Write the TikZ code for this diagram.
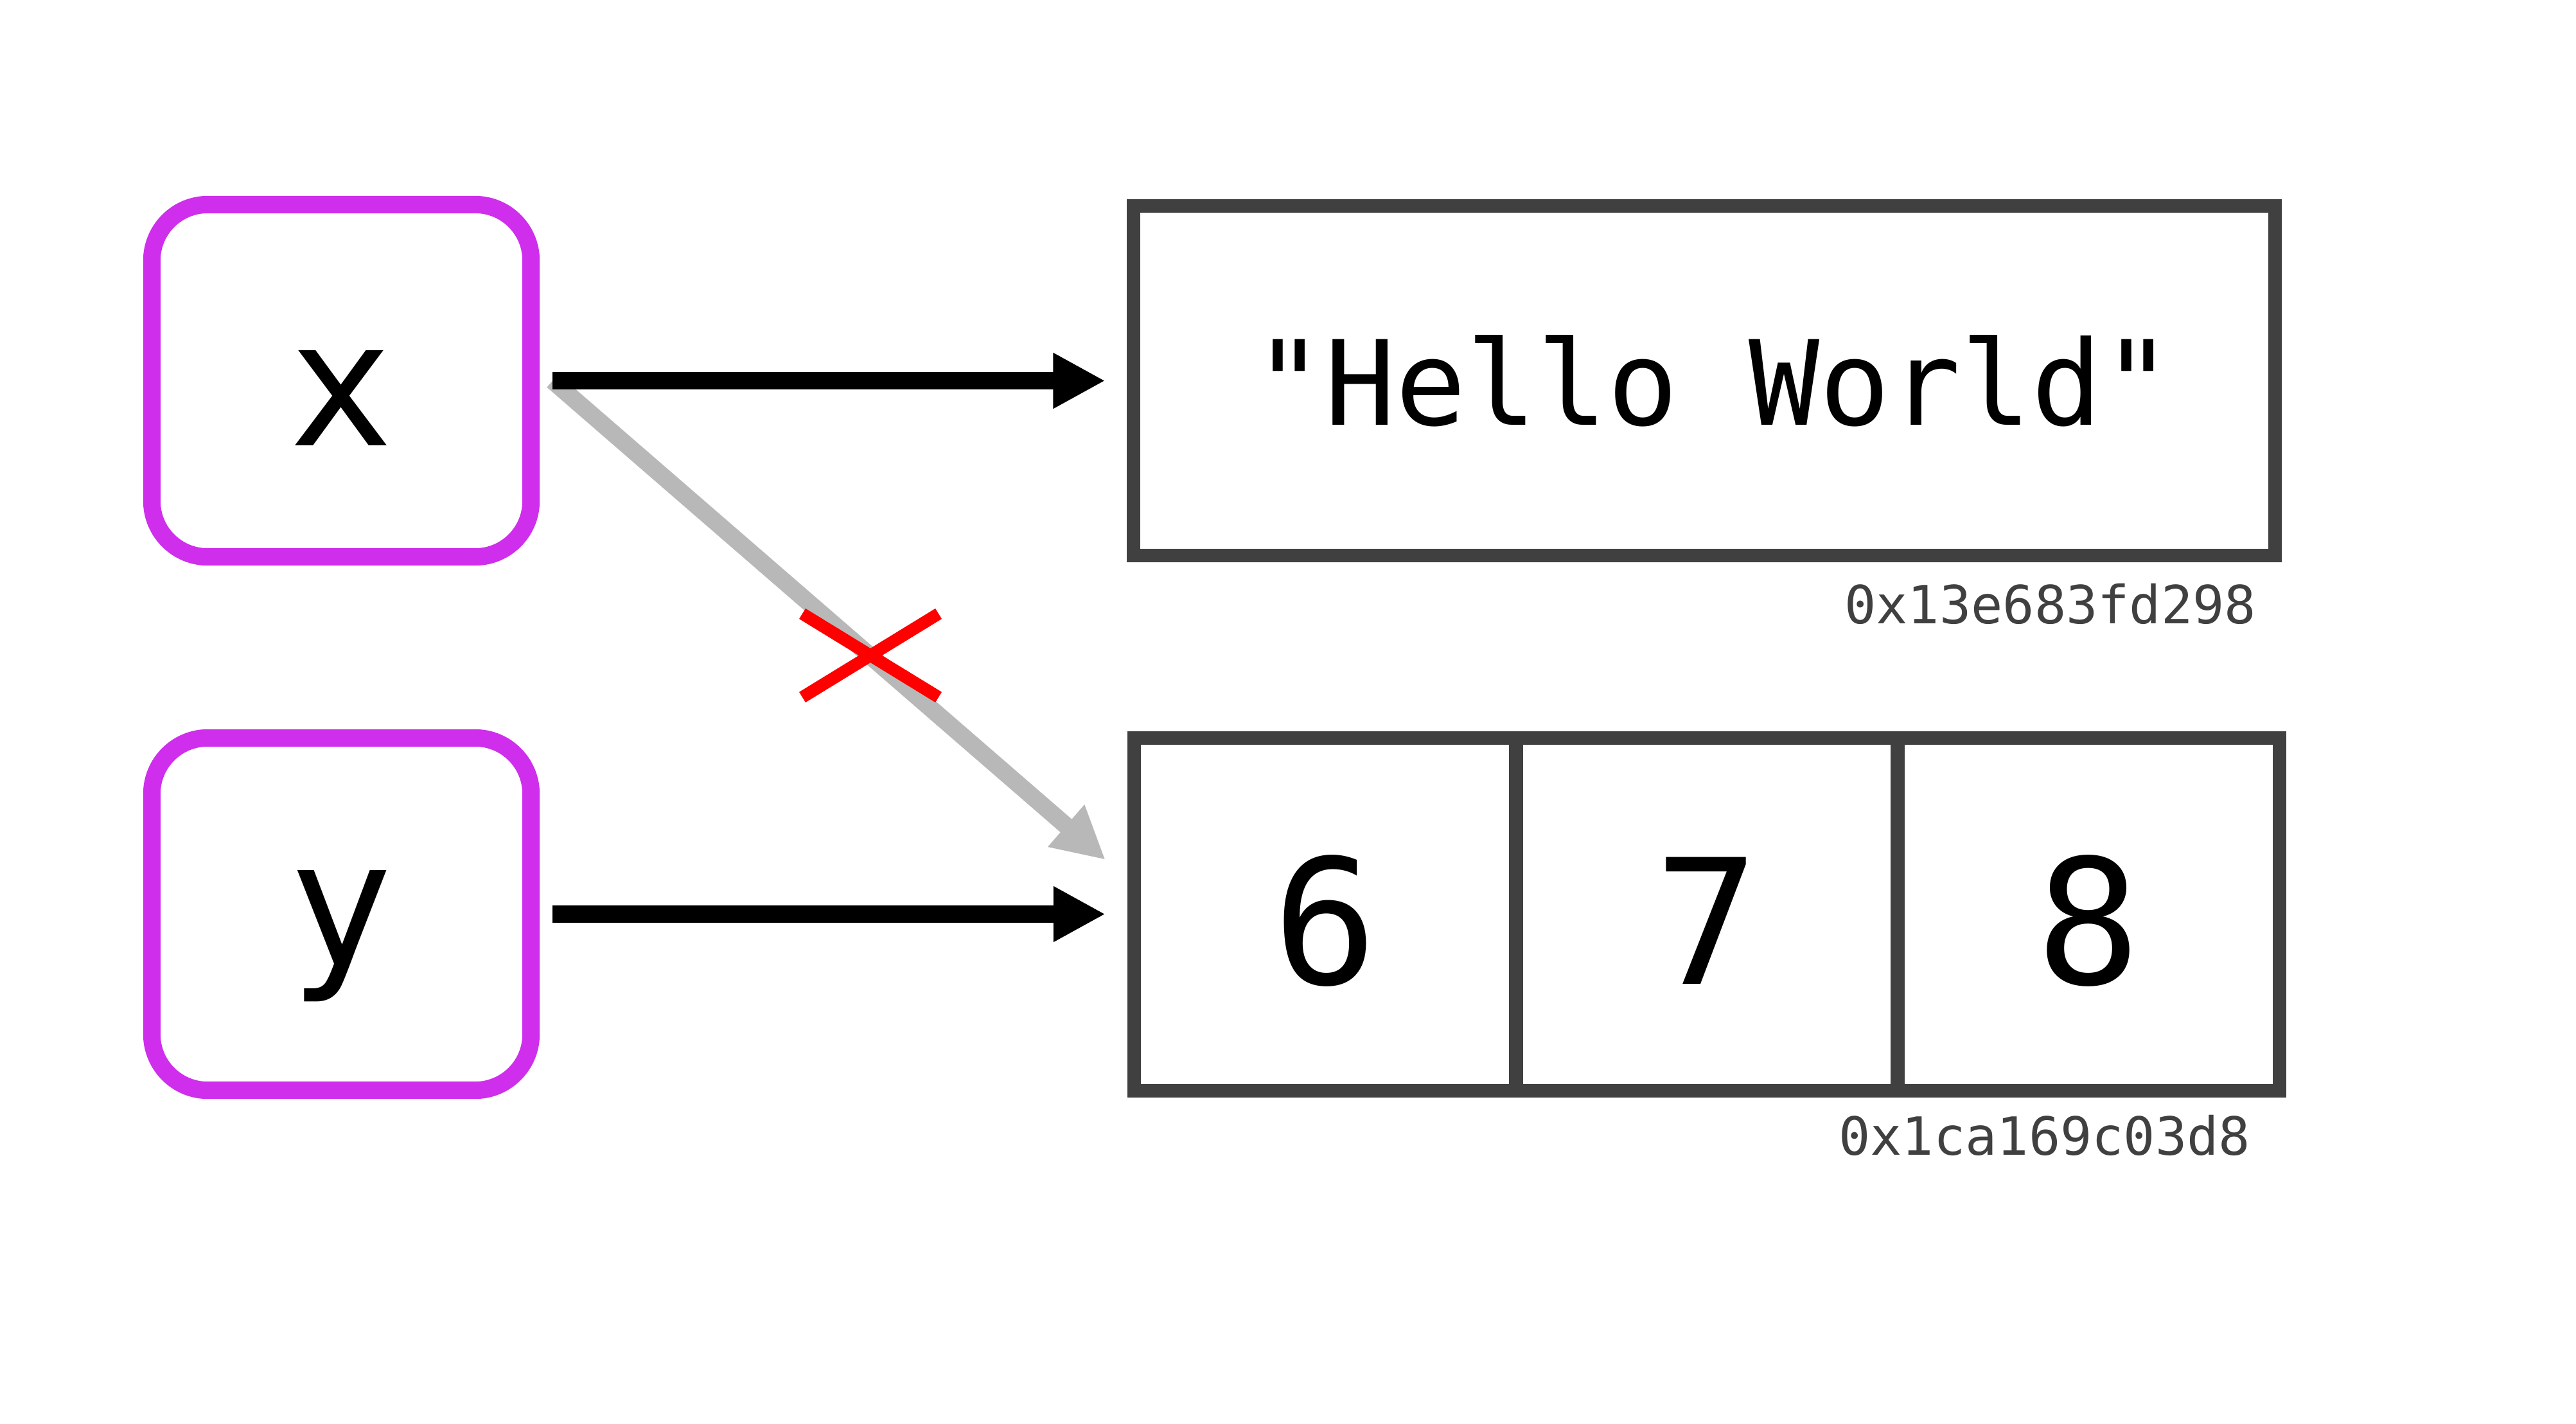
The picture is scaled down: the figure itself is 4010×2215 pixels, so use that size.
\documentclass[tikz,border=0pt]{standalone}
\usepackage{fontspec}
\usepackage{tikz}
\usepackage{xcolor}
\usetikzlibrary{arrows.meta}
\newfontfamily\codefont{DejaVu Sans Mono}
\definecolor{varpurple}{RGB}{207,46,236}
\definecolor{heapgray}{RGB}{64,64,64}
\definecolor{oldgray}{RGB}{184,184,184}
\definecolor{cutred}{RGB}{255,0,0}

\begin{document}
\begin{tikzpicture}[x=0.01cm, y=-0.01cm,
    varbox/.style={draw=varpurple, line width=0.27cm, rounded corners=0.87cm,
        minimum width=5.9cm, minimum height=5.48cm, inner sep=0pt,
        font=\codefont\fontsize{77pt}{80pt}\selectfont},
    cellbox/.style={draw=heapgray, line width=0.21cm, inner sep=0pt, outer sep=0pt,
        font=\codefont\fontsize{77pt}{80pt}\selectfont},
    addr/.style={heapgray, anchor=east, inner sep=0pt,
        font=\codefont\fontsize{23.3pt}{26pt}\selectfont},
    ref/.style={line width=0.27cm, -{Triangle[length=0.81cm, width=0.81cm]}}]
    \useasboundingbox (0,0) rectangle (4010,2215);

    % Variables
    \node[varbox] (x) at (531.5,592.5) {\raisebox{-0.27cm}[\height][\depth]{x}};
    \node[varbox] (y) at (531.5,1422.5) {\raisebox{-0.34cm}[\height][\depth]{y}};

    % Objects on the heap
    \node[cellbox, minimum width=17.76cm, minimum height=5.43cm, font=\codefont\fontsize{52pt}{55pt}\selectfont]
        (hello) at (2652.5,592.5) {\hspace{0.3cm}"Hello World"};
    \node[cellbox, minimum width=5.94cm, minimum height=5.49cm] (six) at (2063,1423) {\raisebox{-0.1cm}[\height][\depth]{6}};
    \node[cellbox, minimum width=5.94cm, minimum height=5.49cm] (seven) at (2657,1423) {\raisebox{-0.1cm}[\height][\depth]{7}};
    \node[cellbox, minimum width=5.94cm, minimum height=5.49cm] (eight) at (3251,1423) {\raisebox{-0.1cm}[\height][\depth]{8}};

    % Addresses
    \node[addr] (addrhello) at (3513,940) {0x13e683fd298};
    \node[addr] (addrlist) at (3504,1767) {0x1ca169c03d8};

    % Old reference, crossed out
    \draw[ref, oldgray] ([xshift=0.2cm]x.east) -- ([shift={(-45,-85)}]six.west);
    \coordinate (cut) at (1355,1020);
    \draw[cutred, line width=0.19cm] (cut) ++(-106,-65) -- ++(212,130);
    \draw[cutred, line width=0.19cm] (cut) ++(-106,65) -- ++(212,-130);

    % References
    \draw[ref, shorten <=0.2cm, shorten >=0.435cm] (x.east) -- (x.east -| hello.west);
    \draw[ref, shorten <=0.2cm, shorten >=0.45cm] (y.east) -- (y.east -| six.west);
\end{tikzpicture}
\end{document}
